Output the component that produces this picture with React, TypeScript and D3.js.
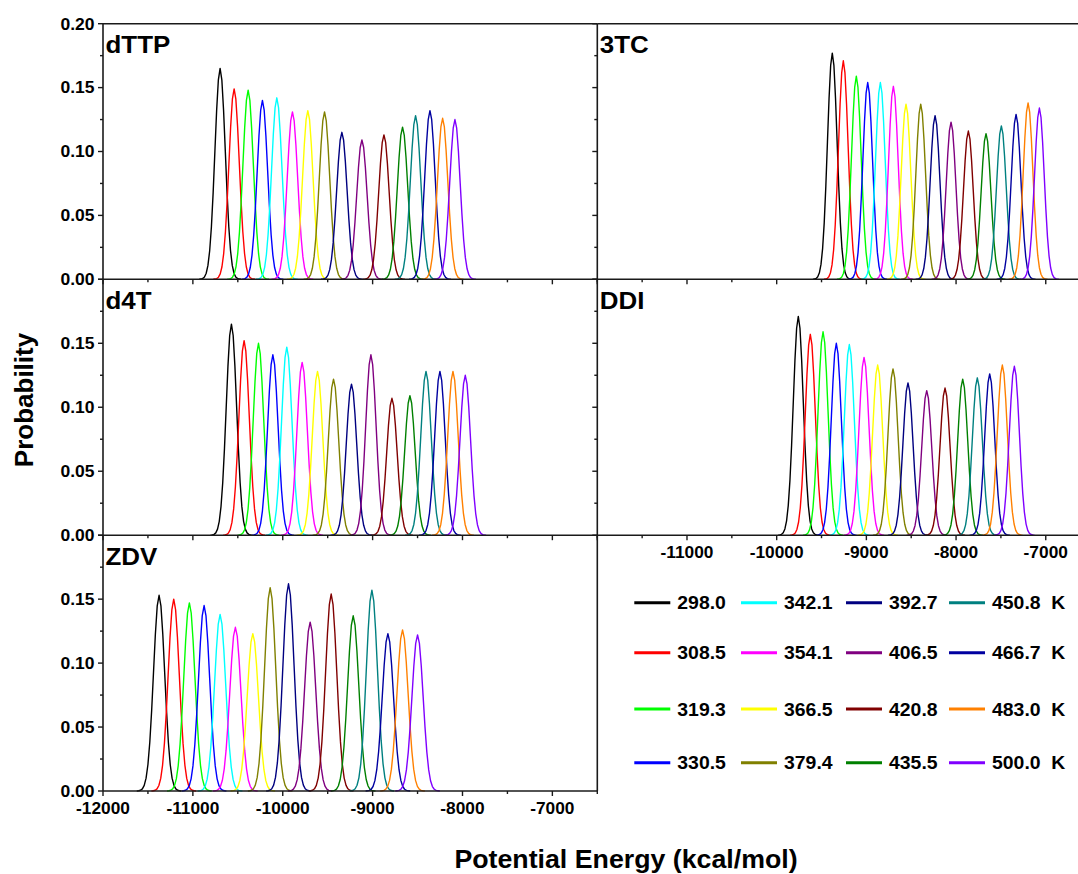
import React from 'react';
import * as d3 from 'd3';

// Replica-exchange temperatures (K) and the colour used for each replica
const temperatures = ['298.0', '308.5', '319.3', '330.5', '342.1', '354.1', '366.5', '379.4',
  '392.7', '406.5', '420.8', '435.5', '450.8', '466.7', '483.0', '500.0'];
const seriesColors = ['#000000', '#FF0000', '#00FF00', '#0000FF', '#00FFFF', '#FF00FF', '#FFFF00', '#808000',
  '#000080', '#800080', '#800000', '#008000', '#008080', '#0000A0', '#FF8000', '#8000FF'];

// Peak energy (kcal/mol) and peak probability of each replica distribution
const dttpCenters = [-10697, -10541, -10385, -10226, -10066, -9892, -9721, -9535, -9342, -9119, -8874, -8667, -8522, -8362, -8221, -8084];
const dttpPeaks = [0.165, 0.149, 0.148, 0.140, 0.142, 0.131, 0.132, 0.131, 0.115, 0.109, 0.113, 0.119, 0.128, 0.132, 0.126, 0.125];

const tcCenters = [-9380, -9257, -9112, -8985, -8844, -8699, -8558, -8394, -8234, -8056, -7863, -7666, -7495, -7331, -7197, -7071];
const tcPeaks = [0.177, 0.171, 0.159, 0.154, 0.154, 0.151, 0.137, 0.137, 0.128, 0.123, 0.116, 0.114, 0.120, 0.129, 0.138, 0.134];

const d4tCenters = [-10571, -10430, -10270, -10110, -9955, -9784, -9613, -9435, -9235, -9019, -8785, -8585, -8406, -8251, -8106, -7969];
const d4tPeaks = [0.165, 0.152, 0.150, 0.141, 0.147, 0.135, 0.128, 0.122, 0.118, 0.141, 0.107, 0.109, 0.128, 0.128, 0.128, 0.125];

const ddiCenters = [-9759, -9625, -9483, -9335, -9190, -9026, -8874, -8703, -8536, -8327, -8123, -7926, -7763, -7625, -7484, -7350];
const ddiPeaks = [0.171, 0.157, 0.159, 0.150, 0.149, 0.139, 0.133, 0.130, 0.119, 0.113, 0.115, 0.122, 0.123, 0.126, 0.133, 0.132];

const zdvCenters = [-11376, -11213, -11039, -10875, -10697, -10527, -10333, -10140, -9936, -9695, -9461, -9216, -9008, -8830, -8667, -8500];
const zdvPeaks = [0.153, 0.150, 0.147, 0.145, 0.138, 0.128, 0.123, 0.159, 0.162, 0.132, 0.154, 0.137, 0.157, 0.123, 0.126, 0.122];

// Axis ticks
const xMajorTicks = [-12000, -11000, -10000, -9000, -8000, -7000];
const xMinorTicks = [-11500, -10500, -9500, -8500, -7500, -6500];
const yMajorTicks = [0, 0.05, 0.1, 0.15, 0.2];
const yMinorTicks = [0.025, 0.075, 0.125, 0.175];

const FONT = "'Liberation Sans', Arial, Helvetica, sans-serif";
const W = 1078;
const H = 874;
const AXIS = '#1a1a1a';

const colLeft: [number, number] = [103, 597.3];
const colRight: [number, number] = [597.3, 1090.6];
const rowBands: [number, number][] = [[23.7, 279.3], [279.3, 535.2], [535.2, 791]];

type PanelSpec = {
  name: string;
  col: [number, number];
  row: number;
  centers: number[];
  peaks: number[];
  sigma: number;
  yLabels: boolean;
  topLabel: boolean;
  xLabels: boolean;
  topBorder: boolean;
  rightBorder: boolean;
};

const panels: PanelSpec[] = [
  { name: 'dTTP', col: colLeft, row: 0, centers: dttpCenters, peaks: dttpPeaks, sigma: 58, yLabels: true, topLabel: true, xLabels: false, topBorder: true, rightBorder: false },
  { name: '3TC', col: colRight, row: 0, centers: tcCenters, peaks: tcPeaks, sigma: 54, yLabels: false, topLabel: false, xLabels: false, topBorder: true, rightBorder: false },
  { name: 'd4T', col: colLeft, row: 1, centers: d4tCenters, peaks: d4tPeaks, sigma: 58, yLabels: true, topLabel: false, xLabels: false, topBorder: false, rightBorder: false },
  { name: 'DDI', col: colRight, row: 1, centers: ddiCenters, peaks: ddiPeaks, sigma: 56, yLabels: false, topLabel: false, xLabels: true, topBorder: false, rightBorder: false },
  { name: 'ZDV', col: colLeft, row: 2, centers: zdvCenters, peaks: zdvPeaks, sigma: 62, yLabels: true, topLabel: false, xLabels: true, topBorder: false, rightBorder: true },
];

type TxtProps = {
  x: number; y: number; size: number; anchor?: string; sx?: number; rotate?: number; children: React.ReactNode;
};

function Txt({ x, y, size, anchor = 'start', sx = 1, rotate = 0, children }: TxtProps) {
  return (
    <text
      transform={`translate(${x},${y}) rotate(${rotate}) scale(${sx},1)`}
      fontSize={size}
      fontWeight="bold"
      fontFamily={FONT}
      textAnchor={anchor}
      fill="#000"
    >
      {children}
    </text>
  );
}

// Sampled energy distribution around a replica's mean energy (peak sampled exactly)
function distribution(center: number, peak: number, sigma: number): [number, number][] {
  const steps = 12;
  const step = sigma / 3;
  return d3.range(-steps, steps + 1).map((k) => {
    const e = center + k * step;
    const z = (e - center) / sigma;
    return [e, peak * Math.exp(-0.5 * z * z)] as [number, number];
  });
}

function Panel({ spec }: { spec: PanelSpec }) {
  const [x0, x1] = spec.col;
  const [y0, y1] = rowBands[spec.row];
  const xScale = d3.scaleLinear().domain([-12000, -6500]).range([x0, x1]);
  const yScale = d3.scaleLinear().domain([0, 0.2]).range([y1, y0]);
  const line = d3.line<[number, number]>()
    .x((d) => xScale(d[0]))
    .y((d) => yScale(d[1]))
    .curve(d3.curveLinear);
  const xEnd = Math.min(x1, W);
  const fmtY = d3.format('.2f');

  return (
    <g>
      {spec.centers.map((c, i) => (
        <path
          key={i}
          d={line(distribution(c, spec.peaks[i], spec.sigma)) || ''}
          fill="none"
          stroke={seriesColors[i]}
          strokeWidth={1.4}
          strokeLinejoin="round"
        />
      ))}

      {/* axis frame */}
      <line x1={x0} x2={x0} y1={y0} y2={y1} stroke={AXIS} strokeWidth={1.6} />
      <line x1={x0} x2={xEnd} y1={y1} y2={y1} stroke={AXIS} strokeWidth={1.6} />
      {spec.topBorder && <line x1={x0} x2={xEnd} y1={y0} y2={y0} stroke={AXIS} strokeWidth={1.6} />}
      {spec.rightBorder && <line x1={x1} x2={x1} y1={y0} y2={y1} stroke={AXIS} strokeWidth={1.6} />}

      {/* y ticks */}
      {yMajorTicks.map((t) => (
        <line key={`ym${t}`} x1={x0 - 5} x2={x0} y1={yScale(t)} y2={yScale(t)} stroke={AXIS} strokeWidth={1.4} />
      ))}
      {yMinorTicks.map((t) => (
        <line key={`yn${t}`} x1={x0 - 3} x2={x0} y1={yScale(t)} y2={yScale(t)} stroke={AXIS} strokeWidth={1.4} />
      ))}
      {spec.yLabels && yMajorTicks
        .filter((t) => t < 0.2 || spec.topLabel)
        .map((t) => (
          <Txt key={`yl${t}`} x={94.5} y={yScale(t) + 5.8} size={16.5} anchor="end" sx={1.06}>{fmtY(t)}</Txt>
        ))}

      {/* x ticks */}
      {xMajorTicks.map((t) => (
        <line key={`xm${t}`} x1={xScale(t)} x2={xScale(t)} y1={y1} y2={y1 + 5} stroke={AXIS} strokeWidth={1.4} />
      ))}
      {xMinorTicks.map((t) => (
        <line key={`xn${t}`} x1={xScale(t)} x2={xScale(t)} y1={y1} y2={y1 + 3} stroke={AXIS} strokeWidth={1.4} />
      ))}
      {spec.xLabels && xMajorTicks
        .filter((t) => (t === -12000 ? x0 < 200 : true))
        .map((t) => (
          <Txt key={`xl${t}`} x={xScale(t)} y={y1 + 23} size={16.5} anchor="middle" sx={1.05}>{String(t)}</Txt>
        ))}

      <Txt x={x0 + 2.5} y={y0 + 29.5} size={24} sx={1.08}>{spec.name}</Txt>
    </g>
  );
}

// Legend grid: four columns of four temperatures, filled column by column
const legendCols = [634.3, 741, 846, 949];
const legendRows = [602.7, 652.7, 709, 762.7];

function Legend() {
  return (
    <g>
      {temperatures.map((t, i) => {
        const c = Math.floor(i / 4);
        const r = i % 4;
        const lx = legendCols[c];
        const ly = legendRows[r];
        return (
          <g key={t}>
            <line x1={lx} x2={lx + 36} y1={ly} y2={ly} stroke={seriesColors[i]} strokeWidth={3} />
            <Txt x={lx + 43} y={ly + 6.6} size={18.5} sx={1.05}>{c === 3 ? `${t}\u00a0\u00a0K` : t}</Txt>
          </g>
        );
      })}
    </g>
  );
}

export default function App() {
  return (
    <svg
      width={W}
      height={H}
      viewBox={`0 0 ${W} ${H}`}
      style={{ position: 'absolute', left: 0, top: 0, background: '#fff' }}
    >
      <rect x={0} y={0} width={W} height={H} fill="#fff" />
      {panels.map((p) => (
        <Panel key={p.name} spec={p} />
      ))}
      <Legend />
      <Txt x={33} y={400} size={26} anchor="middle" rotate={-90}>Probability</Txt>
      <Txt x={626} y={868} size={25} anchor="middle" sx={1.07}>Potential Energy (kcal/mol)</Txt>
    </svg>
  );
}
